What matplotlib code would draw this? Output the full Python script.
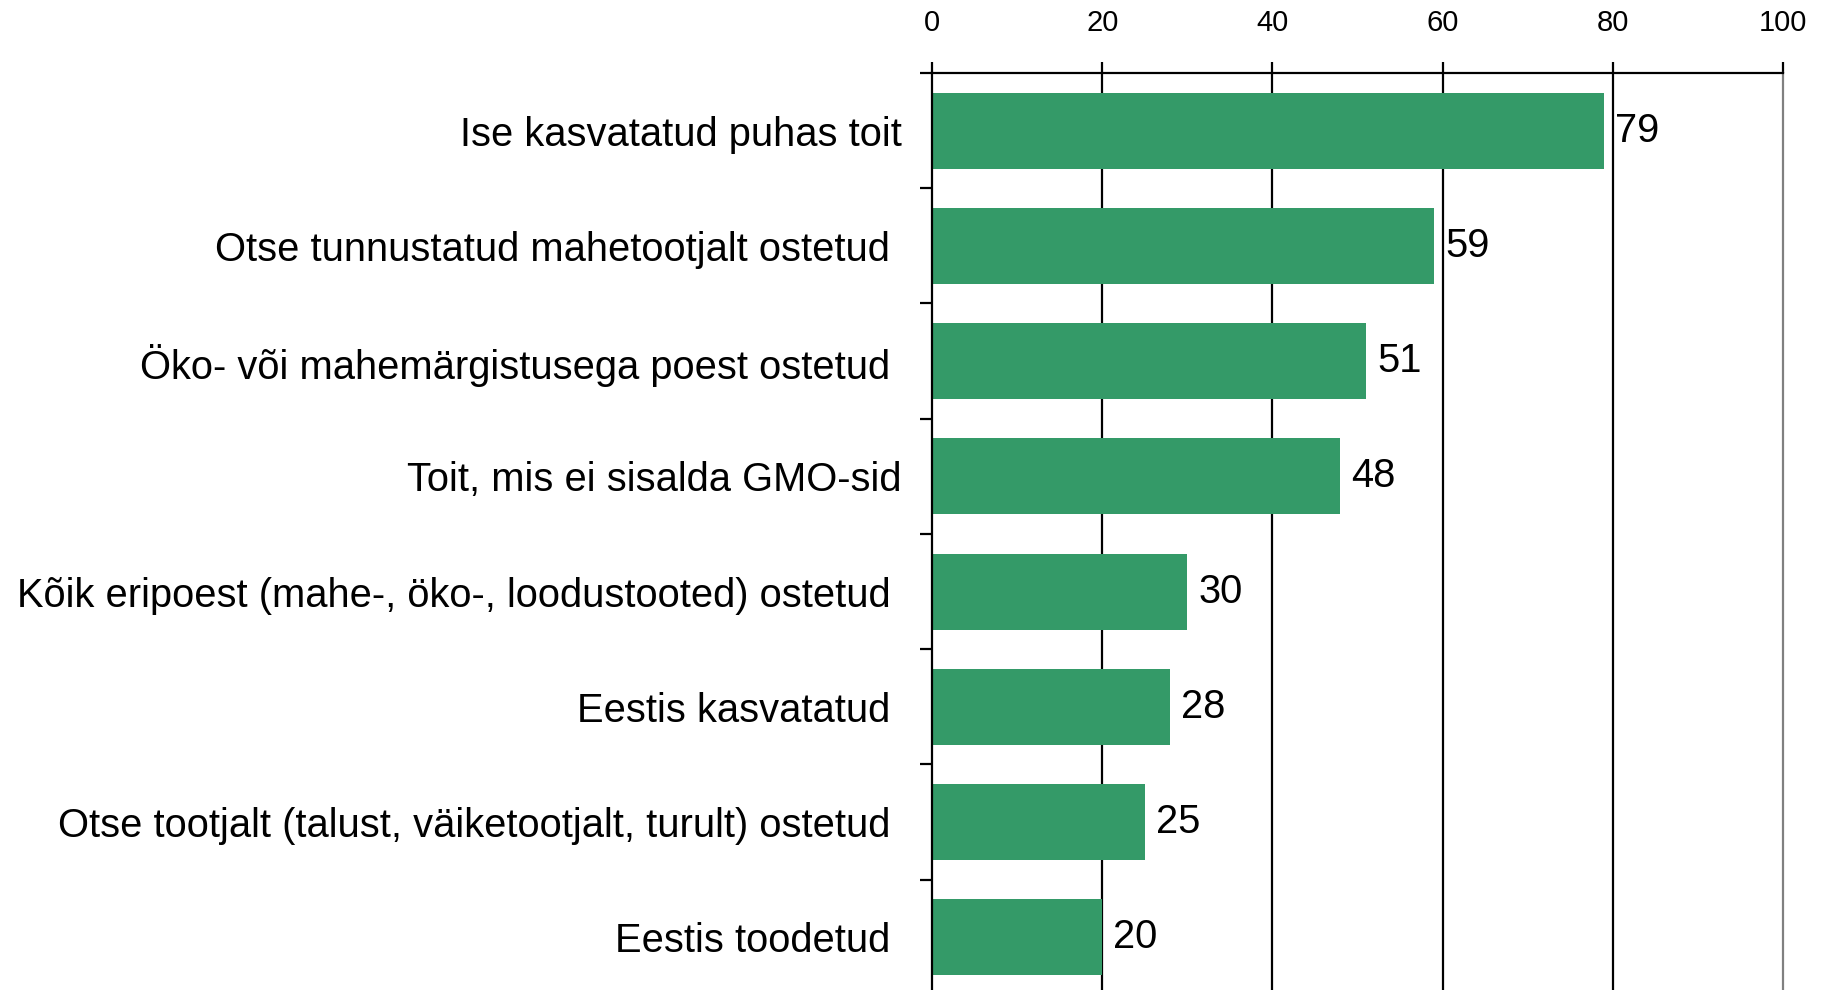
import matplotlib.pyplot as plt
import matplotlib.ticker as ticker

# Data
categories = [
    'Ise kasvatatud puhas toit',
    'Otse tunnustatud mahetootjalt ostetud ',
    'Öko- või mahemärgistusega poest ostetud ',
    'Toit, mis ei sisalda GMO-sid',
    'Kõik eripoest (mahe-, öko-, loodustooted) ostetud ',
    'Eestis kasvatatud ',
    'Otse tootjalt (talust, väiketootjalt, turult) ostetud ',
    'Eestis toodetud ',
]
values = [79, 59, 51, 48, 30, 28, 25, 20]
x_ticks = [0, 20, 40, 60, 80, 100]

bar_color = '#349A68'
W, H = 1822, 990

fig = plt.figure(figsize=(W / 100, H / 100), dpi=100, facecolor='white')
# axes extends slightly below the figure, as in the original
left, right, top, bottom = 932, 1783, 73, 995
ax = fig.add_axes([left / W, 1 - bottom / H, (right - left) / W, (bottom - top) / H])

ypos = list(range(len(categories)))
ax.barh(ypos, values, height=0.66, color=bar_color, zorder=2)

ax.set_xlim(0, 100)
ax.set_ylim(len(categories) - 0.5, -0.5)

# x axis on top
ax.xaxis.set_ticks_position('top')
ax.xaxis.set_label_position('top')
ax.set_xticks(x_ticks)
ax.set_xticklabels([str(t) for t in x_ticks], family='Liberation Sans', fontsize=21)
ax.tick_params(axis='x', direction='out', length=8, width=1.6, pad=18, colors='black')

# y ticks at category boundaries, labels at centres
ax.set_yticks([i - 0.5 for i in range(len(categories) + 1)])
ax.set_yticklabels([])
ax.yaxis.set_minor_locator(ticker.FixedLocator(ypos))
ax.yaxis.set_minor_formatter(ticker.FixedFormatter(categories))
ax.tick_params(axis='y', which='major', direction='out', length=9, width=1.6)
ax.tick_params(axis='y', which='minor', length=0, pad=22)
for lbl in ax.get_yticklabels(minor=True):
    lbl.set_family('Liberation Sans')
    lbl.set_fontsize(28.7)

# vertical grid lines
for t in x_ticks[1:-1]:
    ax.axvline(t, color='black', lw=1.6, zorder=1)

ax.spines['bottom'].set_visible(False)
ax.spines['top'].set_linewidth(1.6)
ax.spines['left'].set_linewidth(1.6)
ax.spines['right'].set_linewidth(1.6)
ax.spines['right'].set_color('#808080')

# value labels
for y, v in zip(ypos, values):
    ax.annotate(str(v), (v, y), xytext=(8, 0), textcoords='offset points',
                va='center', ha='left', fontsize=28.7, family='Liberation Sans')

fig.savefig('out.png', dpi=100, facecolor='white')
